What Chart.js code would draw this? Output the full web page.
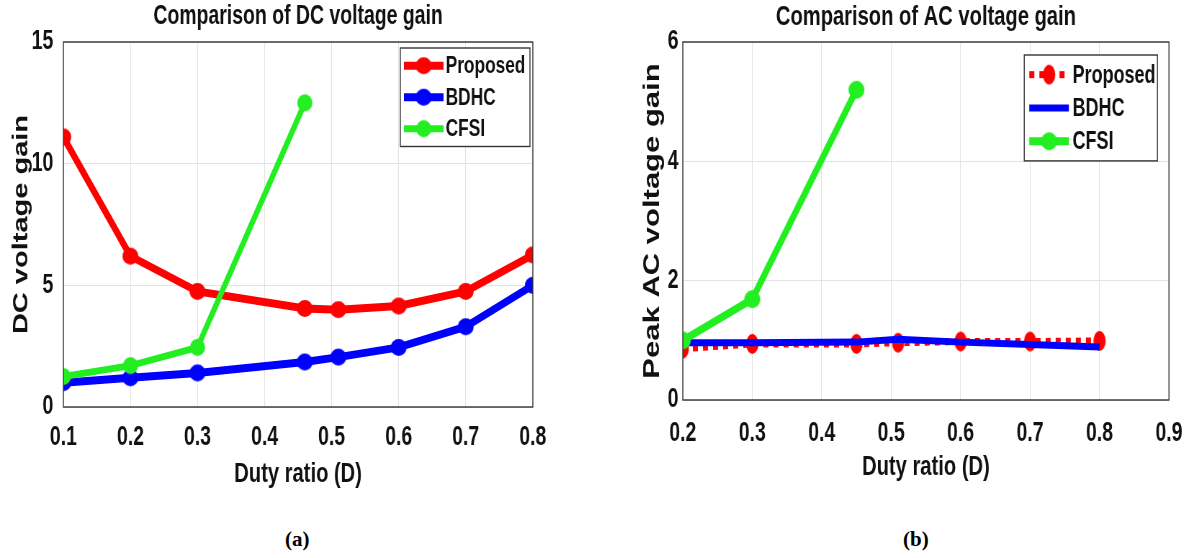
<!DOCTYPE html>
<html>
<head>
<meta charset="utf-8">
<script src="https://cdn.jsdelivr.net/npm/chart.js@4"></script>
<style>
  body { margin: 0; background: #fff; width: 1195px; height: 558px; overflow: hidden; position: relative; }
  /* the original figure is squeezed horizontally, so the canvases are too */
  canvas { position: absolute; top: 0; transform: scaleX(0.72); transform-origin: 0 0; }
  .cap { position: absolute; top: 527px; font: bold 21px 'Liberation Serif', 'Times New Roman', serif; color: #000; }
</style>
</head>
<body>
<canvas id="dcChart" width="828" height="500" style="left:0"></canvas>
<canvas id="acChart" width="826" height="500" style="left:600px"></canvas>
<div class="cap" style="left:285px">(a)</div>
<div class="cap" style="left:903px">(b)</div>
<script>
// ---- data ----
const DC_DUTY = [0.1, 0.2, 0.3, 0.46, 0.51, 0.6, 0.7, 0.8];
const DC_PROPOSED = [11.1, 6.2, 4.75, 4.05, 4.0, 4.15, 4.75, 6.25];
const DC_BDHC = [1.0, 1.2, 1.4, 1.85, 2.05, 2.45, 3.3, 5.0];
const DC_CFSI_DUTY = [0.1, 0.2, 0.3, 0.46];
const DC_CFSI = [1.25, 1.7, 2.45, 12.5];
const DC_X_TICKS = [0.1, 0.2, 0.3, 0.4, 0.5, 0.6, 0.7, 0.8];
const DC_Y_TICKS = [0, 5, 10, 15];

const AC_DUTY = [0.2, 0.3, 0.45, 0.51, 0.6, 0.7, 0.8];
const AC_PROPOSED = [0.86, 0.94, 0.94, 0.96, 0.98, 0.98, 0.99];
const AC_BDHC = [0.96, 0.96, 0.97, 1.02, 0.97, 0.93, 0.89];
const AC_CFSI_DUTY = [0.2, 0.3, 0.45];
const AC_CFSI = [1.0, 1.69, 5.2];
const AC_X_TICKS = [0.2, 0.3, 0.4, 0.5, 0.6, 0.7, 0.8, 0.9];
const AC_Y_TICKS = [0, 2, 4, 6];

const RED = "#ff0000";
const BLUE = "#0000ff";
const GREEN = "#22ee22";
const FONT = "'Liberation Sans', Arial, Helvetica, sans-serif";
const GRID = "#e2e2e2";

function pts(xs, ys) {
  return xs.map((x, i) => ({ x: x, y: ys[i] }));
}

// wide ellipse markers, so they look round-ish once the canvas is squeezed
function ellipseMarker(color, rx, ry) {
  const c = document.createElement("canvas");
  c.width = Math.ceil(rx * 2) + 2;
  c.height = Math.ceil(ry * 2) + 2;
  const g = c.getContext("2d");
  g.fillStyle = color;
  g.beginPath();
  g.ellipse(c.width / 2, c.height / 2, rx, ry, 0, 0, Math.PI * 2);
  g.fill();
  return c;
}

// black box round the plot area, like matlab "box on"
const boxPlugin = {
  id: "plotBox",
  afterDatasetsDraw(chart) {
    const a = chart.chartArea;
    const ctx = chart.ctx;
    ctx.save();
    ctx.strokeStyle = "#333";
    ctx.lineWidth = 1.4;
    ctx.strokeRect(a.left, a.top, a.right - a.left, a.bottom - a.top);
    ctx.restore();
  }
};

// legend drawn inside the plot, top right
const insideLegend = {
  id: "insideLegend",
  afterDraw(chart, args, opts) {
    const { ctx, chartArea } = chart;
    const sets = chart.data.datasets;
    const x0 = chartArea.right - opts.right - opts.width;
    const y0 = chartArea.top + opts.top;
    const h = opts.rowH * sets.length + opts.padY * 2;
    ctx.save();
    ctx.fillStyle = "#fff";
    ctx.fillRect(x0, y0, opts.width, h);
    ctx.strokeStyle = "#333";
    ctx.lineWidth = 1.4;
    ctx.strokeRect(x0, y0, opts.width, h);
    sets.forEach((ds, i) => {
      const cy = y0 + opts.padY + opts.rowH * (i + 0.5);
      const sx = x0 + opts.inset;
      ctx.strokeStyle = ds.borderColor;
      ctx.lineWidth = ds.borderWidth;
      ctx.setLineDash(ds.borderDash || []);
      ctx.beginPath();
      ctx.moveTo(sx, cy);
      ctx.lineTo(sx + opts.sampleW, cy);
      ctx.stroke();
      ctx.setLineDash([]);
      if (ds.pointStyle instanceof HTMLCanvasElement) {
        const m = ds.pointStyle;
        ctx.drawImage(m, sx + opts.sampleW / 2 - m.width / 2, cy - m.height / 2);
      }
      ctx.fillStyle = "#111";
      ctx.font = opts.font;
      ctx.textBaseline = "middle";
      ctx.fillText(ds.label, sx + opts.sampleW + opts.gap, cy + 1);
    });
    ctx.restore();
  }
};

function makeScales(xTicks, yTicks, title, yTitle, cfg) {
  return {
    // extra top axis only carries the title, so it is centred over the plot
    xTop: {
      type: "linear",
      position: "top",
      min: xTicks[0],
      max: xTicks[xTicks.length - 1],
      afterFit: (s) => { s.height = 42; },
      grid: { display: false },
      border: { display: false },
      ticks: { display: false },
      title: {
        display: true,
        text: title,
        color: "#111",
        font: { family: FONT, size: cfg.titleSize, weight: "bold" },
        padding: { top: 0, bottom: 0 }
      }
    },
    x: {
      type: "linear",
      min: xTicks[0],
      max: xTicks[xTicks.length - 1],
      afterBuildTicks: (s) => { s.ticks = xTicks.map(v => ({ value: v })); },
      afterFit: (s) => { s.height = cfg.xHeight; },
      grid: { color: GRID, drawTicks: false },
      border: { display: false },
      ticks: {
        color: "#111",
        padding: cfg.xTickPad,
        font: { family: FONT, size: 27, weight: "bold" },
        callback: (v) => Number(v).toFixed(1)
      },
      title: {
        display: true,
        text: "Duty ratio (D)",
        color: "#111",
        font: { family: FONT, size: 28, weight: "bold" },
        padding: { top: cfg.xTitlePad, bottom: cfg.xTitlePad }
      }
    },
    y: {
      type: "linear",
      min: yTicks[0],
      max: yTicks[yTicks.length - 1],
      afterBuildTicks: (s) => { s.ticks = yTicks.map(v => ({ value: v })); },
      afterFit: (s) => { s.width = cfg.yWidth; },
      grid: { color: GRID, drawTicks: false },
      border: { display: false },
      ticks: {
        color: "#111",
        padding: cfg.yTickPad,
        font: { family: FONT, size: 27, weight: "bold" }
      },
      title: {
        display: true,
        text: yTitle,
        color: "#111",
        font: { family: FONT, size: cfg.yTitleSize, weight: "bold" },
        padding: { top: cfg.yTitlePad, bottom: cfg.yTitlePad }
      }
    }
  };
}

function initDC() {
  new Chart(document.getElementById("dcChart"), {
    type: "line",
    data: {
      datasets: [
        { label: "Proposed", data: pts(DC_DUTY, DC_PROPOSED), borderColor: RED, backgroundColor: RED,
          pointStyle: ellipseMarker(RED, 11, 8.5), pointRadius: 9, borderWidth: 8, xAxisID: "x", order: 2 },
        { label: "BDHC", data: pts(DC_DUTY, DC_BDHC), borderColor: BLUE, backgroundColor: BLUE,
          pointStyle: ellipseMarker(BLUE, 11, 8.5), pointRadius: 9, borderWidth: 8, xAxisID: "x", order: 1 },
        { label: "CFSI", data: pts(DC_CFSI_DUTY, DC_CFSI), borderColor: GREEN, backgroundColor: GREEN,
          pointStyle: ellipseMarker(GREEN, 10.5, 8.5), pointRadius: 9, borderWidth: 7, xAxisID: "x", order: 0 }
      ]
    },
    options: {
      responsive: false,
      animation: false,
      layout: { padding: { left: 0, right: 88, top: 0, bottom: 0 } },
      plugins: {
        legend: { display: false },
        tooltip: { enabled: false },
        insideLegend: { right: 4, top: 6, width: 180, rowH: 31.5, padY: 2, inset: 5, sampleW: 55, gap: 3,
          font: "bold 24px " + FONT }
      },
      scales: makeScales(DC_X_TICKS, DC_Y_TICKS, "Comparison of DC voltage gain", "DC voltage gain",
        { titleSize: 27, xHeight: 93, xTickPad: 14, xTitlePad: 9, yWidth: 88, yTickPad: 14,
          yTitleSize: 29, yTitlePad: 13 })
    },
    plugins: [boxPlugin, insideLegend]
  });
}

function initAC() {
  new Chart(document.getElementById("acChart"), {
    type: "line",
    data: {
      datasets: [
        { label: "Proposed", data: pts(AC_DUTY, AC_PROPOSED), borderColor: RED, backgroundColor: RED,
          pointStyle: ellipseMarker(RED, 8.5, 10), pointRadius: 9, borderWidth: 7, borderDash: [7, 7],
          xAxisID: "x", order: 2 },
        { label: "BDHC", data: pts(AC_DUTY, AC_BDHC), borderColor: BLUE, backgroundColor: BLUE,
          pointRadius: 0, borderWidth: 7, xAxisID: "x", order: 1 },
        { label: "CFSI", data: pts(AC_CFSI_DUTY, AC_CFSI), borderColor: GREEN, backgroundColor: GREEN,
          pointStyle: ellipseMarker(GREEN, 11, 9), pointRadius: 9, borderWidth: 8, xAxisID: "x", order: 0 }
      ]
    },
    options: {
      responsive: false,
      animation: false,
      layout: { padding: { left: 0, right: 27, top: 0, bottom: 0 } },
      plugins: {
        legend: { display: false },
        tooltip: { enabled: false },
        insideLegend: { right: 16, top: 13, width: 185, rowH: 33.3, padY: 3, inset: 7, sampleW: 55, gap: 5,
          font: "bold 25px " + FONT }
      },
      scales: makeScales(AC_X_TICKS, AC_Y_TICKS, "Comparison of AC voltage gain", "Peak AC voltage gain",
        { titleSize: 28, xHeight: 100, xTickPad: 17, xTitlePad: 16, yWidth: 115, yTickPad: 6,
          yTitleSize: 31, yTitlePad: 55 })
    },
    plugins: [boxPlugin, insideLegend]
  });
}

initDC();
initAC();
</script>
</body>
</html>
